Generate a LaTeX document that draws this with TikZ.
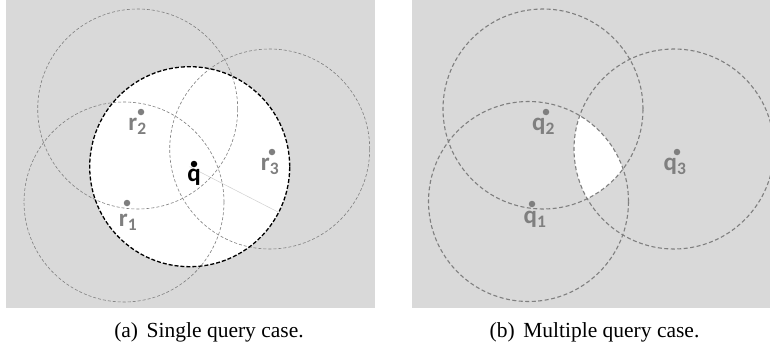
\documentclass[tikz,border=0pt]{standalone}
\usepackage{fontspec}
\setmainfont{Liberation Serif}
\newfontfamily\lblfont{Carlito}
\usepackage{tikz}
\usetikzlibrary{positioning}
\definecolor{pgray}{HTML}{D9D9D9}
\definecolor{dgray}{HTML}{7F7F7F}
\definecolor{rgray}{HTML}{D0D0D0}

\begin{document}
\begin{tikzpicture}[x=1pt, y=-1pt,
  ring/.style={dgray, dash pattern=on 3pt off 2pt, line width=0.6pt},
  qring/.style={black, dash pattern=on 4pt off 2pt, line width=1.3pt},
  mring/.style={dgray, dash pattern=on 4pt off 2.5pt, line width=1.1pt},
  qdot/.style={circle, fill=dgray, inner sep=0pt, minimum size=6.5pt},
  lbl/.style={font=\lblfont\bfseries\fontsize{25}{27}\selectfont, text=dgray, anchor=mid, inner sep=0pt},
  subcap/.style={font=\fontsize{21.5}{26}\selectfont, anchor=base}]
\useasboundingbox (0,0) rectangle (770,348);
\fill[pgray] (6,0) rectangle (375,308);
\fill[pgray] (412,0) rectangle (770,308);
% (a) single query
\coordinate (cq) at (189.7,166.7);
\coordinate (cr1) at (124,202);
\coordinate (cr2) at (137.7,109);
\coordinate (cr3) at (269.7,149);
\coordinate (rim) at (278,212);
\fill[white] (cq) circle (100pt);
\draw[rgray, line width=0.5pt] (cq) -- (rim);
\foreach \c in {cr1,cr2,cr3}
  \draw[ring] (\c) circle (100pt);
\draw[qring] (cq) circle (100pt);
\node[qdot, fill=black] (dq) at (194,164) {};
\node[lbl, text=black] (lq) at (194,179) {q};
\node[qdot] (dr1) at (127,203) {};
\node[lbl] (lr1) at (128,224) {r\textsubscript{1}};
\node[qdot] (dr2) at (141,112) {};
\node[lbl] (lr2) at (137.5,128) {r\textsubscript{2}};
\node[qdot] (dr3) at (272,152) {};
\node[lbl] (lr3) at (270,168) {r\textsubscript{3}};
% (b) multiple queries
\coordinate (cm1) at (528.5,201.5);
\coordinate (cm2) at (543,109);
\coordinate (cm3) at (674,149);
\begin{scope}
  \clip (cm1) circle (100pt);
  \clip (cm2) circle (100pt);
  \fill[white] (cm3) circle (100pt);
\end{scope}
\foreach \c in {cm1,cm2,cm3}
  \draw[mring] (\c) circle (100pt);
\node[qdot] (dm1) at (532,204) {};
\node[lbl] (lm1) at (535,221.5) {q\textsubscript{1}};
\node[qdot] (dm2) at (546,112) {};
\node[lbl] (lm2) at (543.5,128.5) {q\textsubscript{2}};
\node[qdot] (dm3) at (677,152) {};
\node[lbl] (lm3) at (675,168.5) {q\textsubscript{3}};
\node[subcap] (capa) at (209,337) {(a)\hspace{0.15em} Single query case.};
\node[subcap] (capb) at (594.5,337) {(b)\hspace{0.15em} Multiple query case.};
\end{tikzpicture}
\end{document}
